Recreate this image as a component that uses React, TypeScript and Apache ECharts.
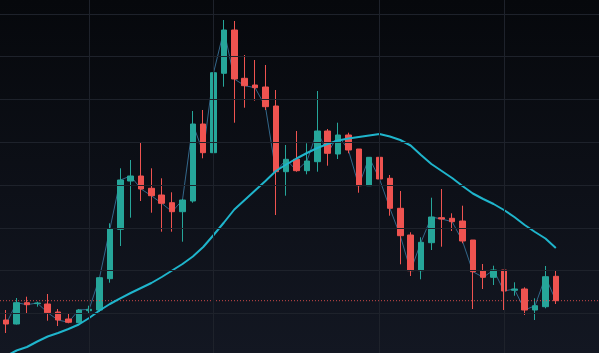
import React, { useEffect, useRef } from "react";
import * as echarts from "echarts";

// 54 bars
const categories: string[] = Array.from({ length: 54 }, (_, i) => `B${i + 1}`);

const opens = [
  8.0, 7.6, 9.73, 9.64, 9.6, 8.8, 8.1, 7.73, 8.93, 9.0,
  12.13, 17.07, 21.9, 22.4, 21.17, 20.5, 19.73, 18.83, 19.9, 27.6,
  24.73, 32.67, 37.0, 32.17, 31.5, 31.3, 29.4, 22.83, 24.07, 22.93,
  23.83, 26.9, 24.6, 26.5, 25.1, 21.43, 24.27, 22.17, 19.17, 16.5,
  12.93, 15.73, 18.23, 18.17, 17.9, 16.0, 12.93, 12.27, 13.0, 10.97,
  11.1, 9.0, 9.33, 12.37,
];
const closes = [
  7.6, 9.73, 9.53, 9.7, 8.73, 8.0, 7.77, 9.0, 9.07, 12.23,
  17.1, 22.0, 22.4, 21.1, 20.43, 19.67, 18.83, 20.0, 27.6, 24.73,
  32.73, 37.0, 32.1, 31.43, 31.23, 29.33, 22.83, 24.07, 22.93, 23.9,
  26.9, 24.67, 26.5, 25.0, 21.43, 24.27, 22.1, 19.17, 16.43, 12.93,
  15.77, 18.3, 18.1, 17.83, 15.9, 12.83, 12.27, 13.0, 10.9, 11.1,
  9.0, 9.43, 12.33, 9.93,
];
const lows = [
  6.7, 7.55, 8.6, 9.33, 7.93, 7.4, 7.67, 7.67, 8.67, 8.83,
  11.73, 15.4, 18.23, 19.9, 18.73, 16.83, 16.83, 15.83, 19.73, 24.17,
  23.57, 31.33, 27.73, 29.23, 29.93, 29.0, 18.5, 20.43, 22.83, 22.57,
  22.83, 23.43, 24.1, 24.67, 20.73, 21.43, 21.43, 18.43, 13.57, 12.4,
  12.07, 15.0, 15.33, 16.9, 15.67, 9.1, 11.1, 11.5, 9.0, 10.43,
  8.5, 8.0, 9.17, 9.6,
];
const highs = [
  9.0, 10.2, 10.33, 9.83, 10.6, 9.1, 8.6, 9.1, 9.43, 12.3,
  17.67, 23.17, 24.0, 25.8, 23.17, 22.17, 20.77, 20.1, 28.9, 29.0,
  33.0, 38.0, 37.9, 34.5, 34.0, 33.5, 31.0, 25.5, 26.9, 25.67,
  30.9, 27.1, 27.73, 26.73, 25.1, 24.3, 24.6, 22.5, 20.9, 16.77,
  16.27, 20.23, 21.1, 18.67, 19.43, 16.0, 13.6, 13.43, 13.0, 11.77,
  11.27, 10.17, 13.4, 12.93,
];
const movingAverage = [
  4.4, 4.95, 5.3, 5.85, 6.35, 6.7, 7.1, 7.55, 8.2, 8.95,
  9.6, 10.17, 10.7, 11.2, 11.7, 12.3, 12.95, 13.6, 14.35, 15.3,
  16.5, 17.75, 19.05, 20.0, 20.95, 21.9, 22.9, 23.55, 24.15, 24.7,
  25.2, 25.6, 25.95, 26.15, 26.3, 26.45, 26.6, 26.35, 26.0, 25.45,
  24.5, 23.6, 22.9, 22.2, 21.4, 20.65, 20.1, 19.6, 19.0, 18.3,
  17.5, 16.8, 16.15, 15.2,
];

// grid levels (price) and vertical separators (category names)
const priceGridLevels = [8.67, 12.95, 17.22, 21.5, 25.78, 30.05, 34.33, 38.6];
const timeGridCategories = ["B9", "B21", "B37", "B49"];

const Y_MIN = 4.7;
const Y_MAX = 40;

export default function App() {
  const ref = useRef<HTMLDivElement>(null);

  useEffect(() => {
    if (!ref.current) return;
    const chart = echarts.init(ref.current, undefined, { renderer: "svg" });
    const candleData = opens.map((o, i) => [o, closes[i], lows[i], highs[i]]);
    const lastClose = closes[closes.length - 1];
    const gridColor = "#1e222b";
    const hiddenAxis = {
      axisLine: { show: false },
      axisTick: { show: false },
      axisLabel: { show: false },
      splitLine: { show: false },
    };

    chart.setOption({
      animation: false,
      backgroundColor: new echarts.graphic.LinearGradient(0, 0, 0, 1, [
        { offset: 0, color: "#06080c" },
        { offset: 1, color: "#131722" },
      ]),
      grid: [
        { left: 1, right: 38, top: 0, bottom: 0 },
        { left: 0, right: 0, top: 0, bottom: 0 },
      ],
      xAxis: [
        { type: "category", data: categories, boundaryGap: true, gridIndex: 0, ...hiddenAxis },
        { type: "value", min: 0, max: 1, gridIndex: 1, ...hiddenAxis },
      ],
      yAxis: [
        { type: "value", min: Y_MIN, max: Y_MAX, gridIndex: 0, ...hiddenAxis },
        { type: "value", min: Y_MIN, max: Y_MAX, gridIndex: 1, ...hiddenAxis },
      ],
      series: [
        {
          // full-width horizontal grid lines
          type: "line",
          name: "grid",
          xAxisIndex: 1,
          yAxisIndex: 1,
          data: [
            [0, lastClose],
            [1, lastClose],
          ],
          z: 0,
          showSymbol: false,
          symbol: "none",
          silent: true,
          lineStyle: { opacity: 0 },
          markLine: {
            silent: true,
            symbol: ["none", "none"],
            label: { show: false },
            lineStyle: { color: gridColor, width: 1, type: "solid" },
            data: priceGridLevels.map((v) => ({ yAxis: v })),
          },
        },
        {
          type: "line",
          name: "close",
          data: closes,
          z: 1,
          showSymbol: false,
          symbol: "none",
          silent: true,
          lineStyle: { color: "#33678a", width: 1 },
          markLine: {
            silent: true,
            symbol: ["none", "none"],
            label: { show: false },
            lineStyle: { color: gridColor, width: 1, type: "solid" },
            data: timeGridCategories.map((c) => ({ xAxis: c })),
          },
        },
        {
          type: "candlestick",
          name: "price",
          data: candleData,
          z: 2,
          barWidth: 6,
          itemStyle: {
            color: "#26a69a",
            color0: "#ef5350",
            borderColor: "#26a69a",
            borderColor0: "#ef5350",
            borderWidth: 1,
          },
        },
        {
          // last price line across the full width
          type: "line",
          name: "last",
          xAxisIndex: 1,
          yAxisIndex: 1,
          data: [
            [0, lastClose],
            [1, lastClose],
          ],
          z: 3,
          showSymbol: false,
          symbol: "none",
          silent: true,
          lineStyle: { color: "#ef5350", width: 1, type: [1, 2], opacity: 0.85 },
        },
        {
          type: "line",
          name: "MA",
          data: movingAverage,
          z: 4,
          showSymbol: false,
          symbol: "none",
          silent: true,
          clip: true,
          lineStyle: { color: "#1fb5cc", width: 2 },
        },
      ],
    });
    return () => chart.dispose();
  }, []);

  return (
    <div
      ref={ref}
      style={{ position: "fixed", left: 0, top: 0, width: 599, height: 353 }}
    />
  );
}
